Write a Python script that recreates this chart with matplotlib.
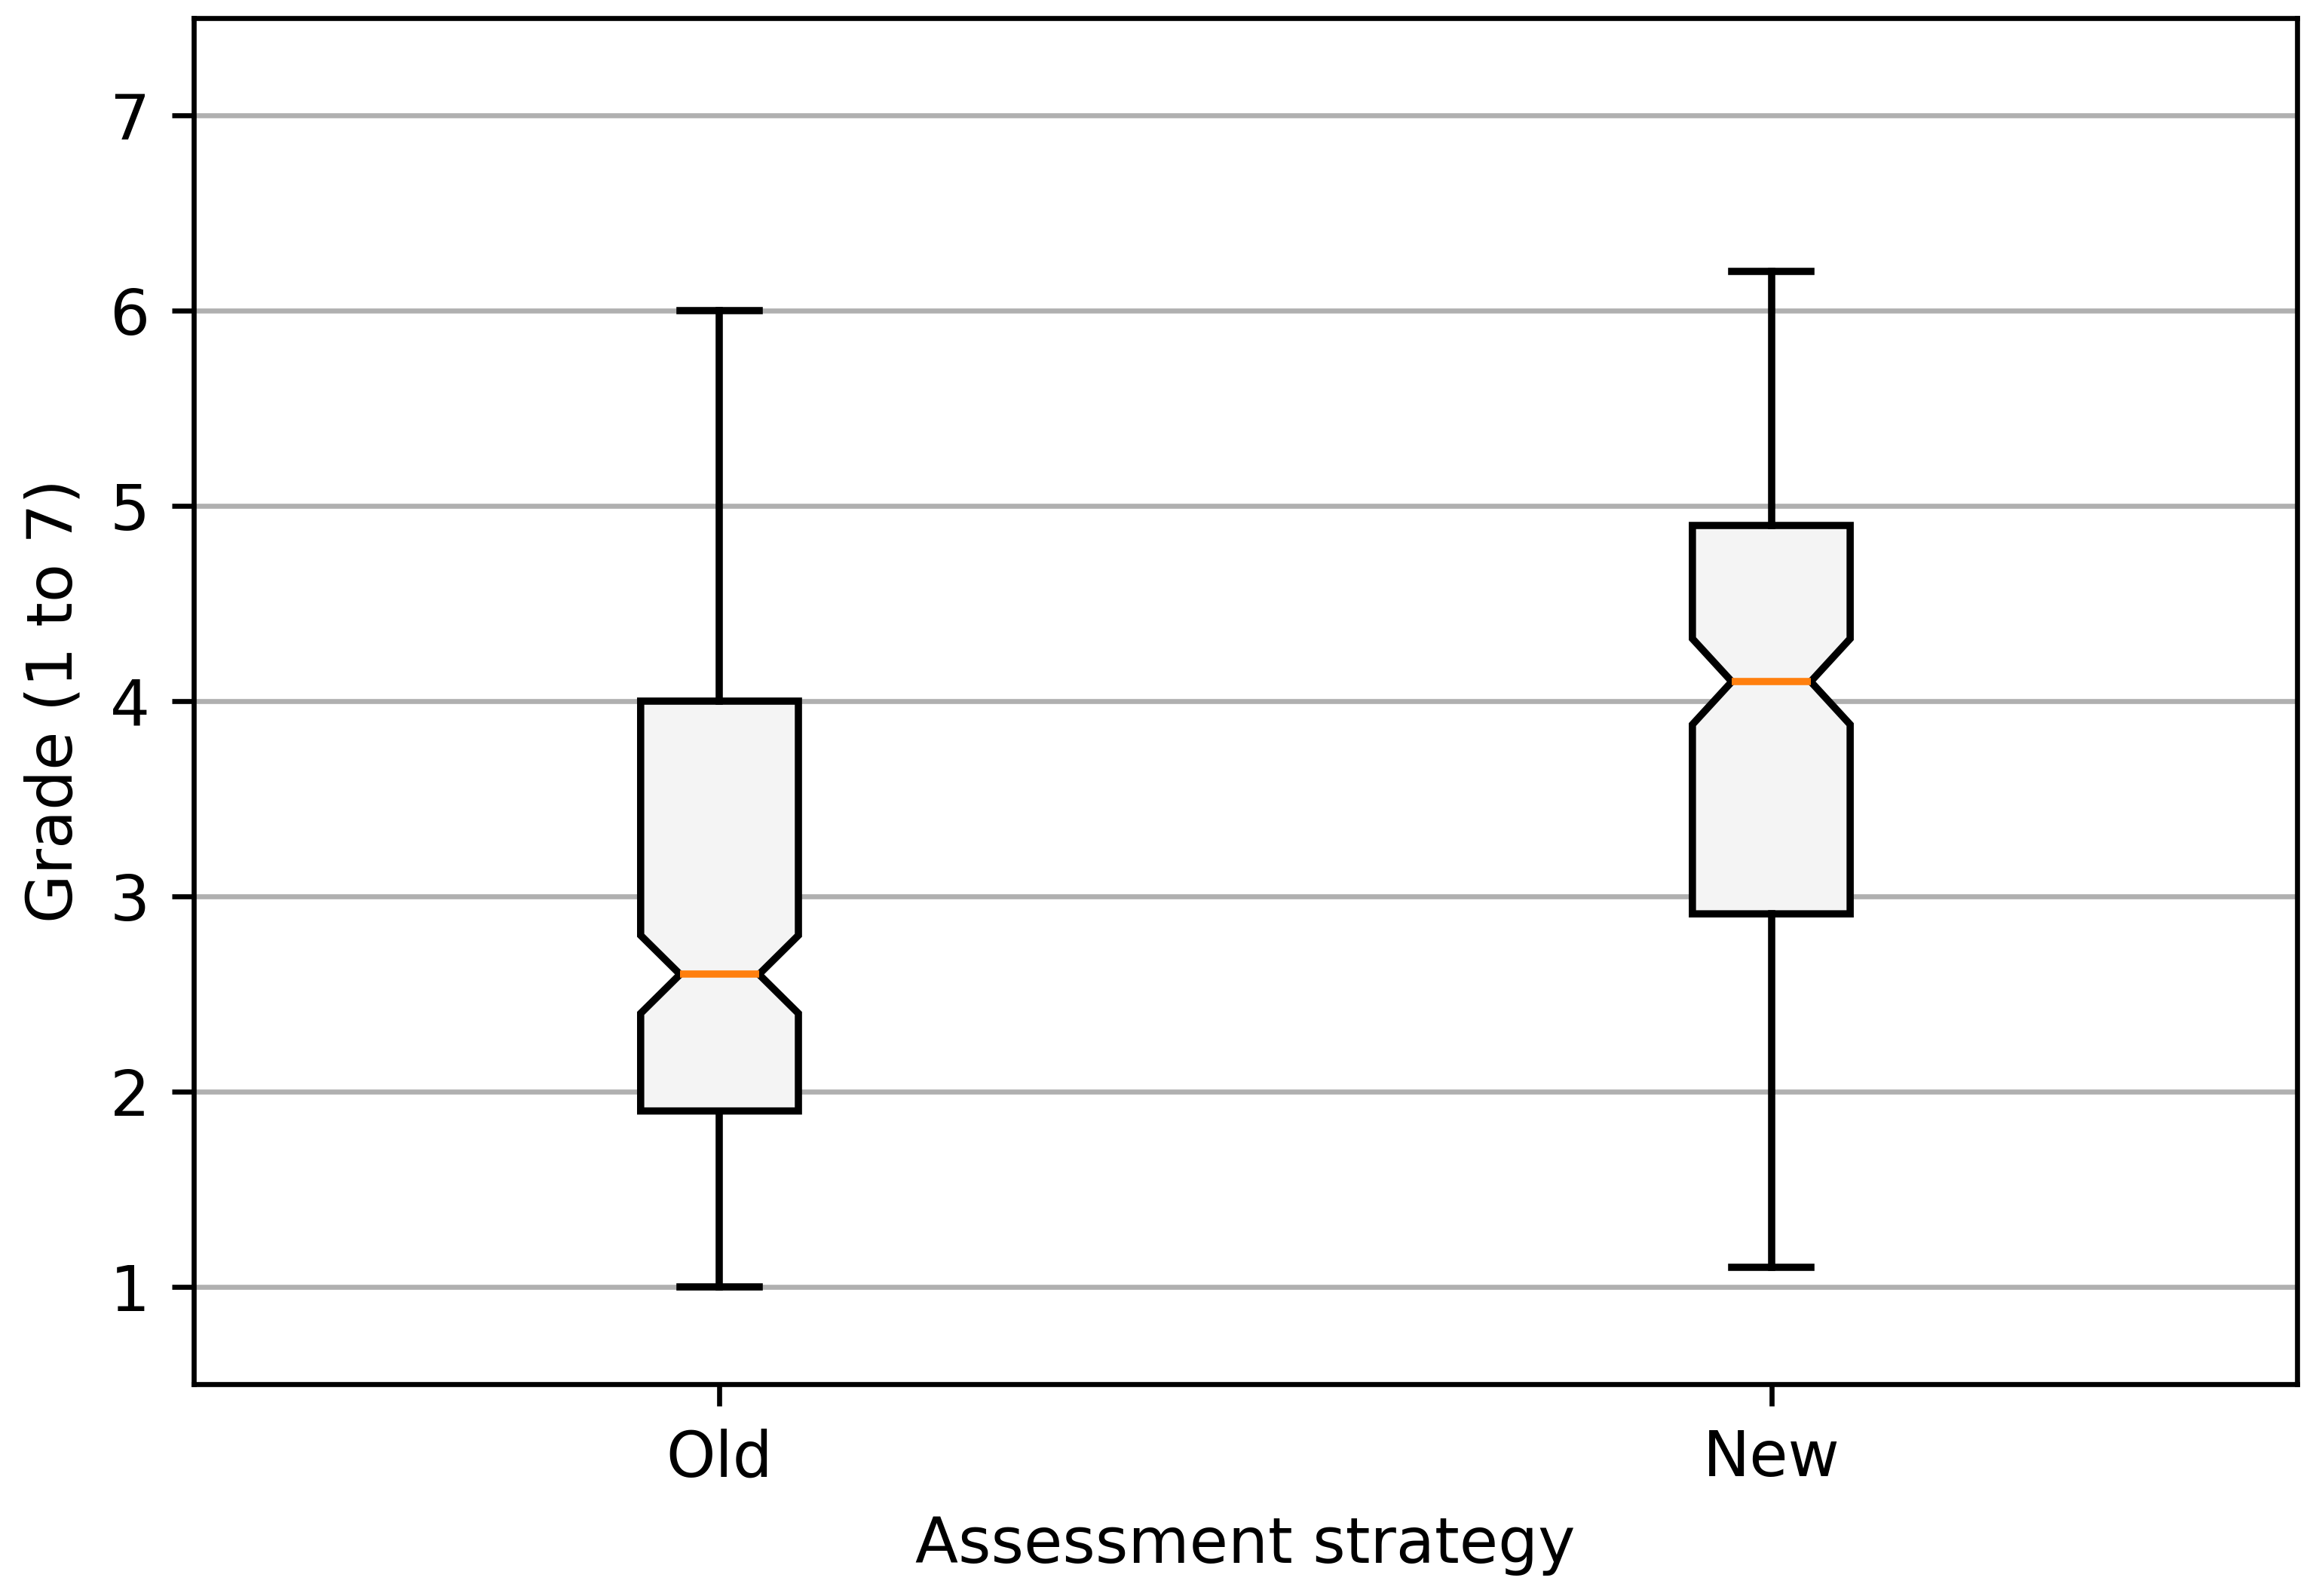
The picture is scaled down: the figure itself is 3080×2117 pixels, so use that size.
import matplotlib
matplotlib.use("Agg")
import matplotlib.pyplot as plt

# box statistics
labels = ["Old", "New"]
whislo = [1.0, 1.1]
q1 = [1.9, 2.91]
med = [2.6, 4.1]
q3 = [4.0, 4.9]
whishi = [6.0, 6.2]
cilo = [2.4, 3.88]
cihi = [2.8, 4.32]

stats = []
for i in range(len(labels)):
    stats.append({
        "label": labels[i],
        "whislo": whislo[i],
        "q1": q1[i],
        "med": med[i],
        "q3": q3[i],
        "whishi": whishi[i],
        "cilo": cilo[i],
        "cihi": cihi[i],
        "fliers": [],
    })

fig = plt.figure(figsize=(3080 / 600, 2117 / 600), dpi=600)
ax = fig.add_axes([0.0834, 0.1327, 0.9893 - 0.0834, 0.9887 - 0.1327])

lw = 1.15
ax.bxp(stats, shownotches=True, patch_artist=True,
       boxprops=dict(facecolor="#f4f4f4", edgecolor="black", linewidth=lw),
       whiskerprops=dict(linewidth=lw),
       capprops=dict(linewidth=lw),
       medianprops=dict(linewidth=lw))

ax.set_ylim(0.5, 7.5)
ax.set_yticks(range(1, 8))
ax.yaxis.grid(True, color="#b0b0b0")
ax.set_xlabel("Assessment strategy")
ax.set_ylabel("Grade (1 to 7)")

fig.savefig("out.png", dpi=600)
